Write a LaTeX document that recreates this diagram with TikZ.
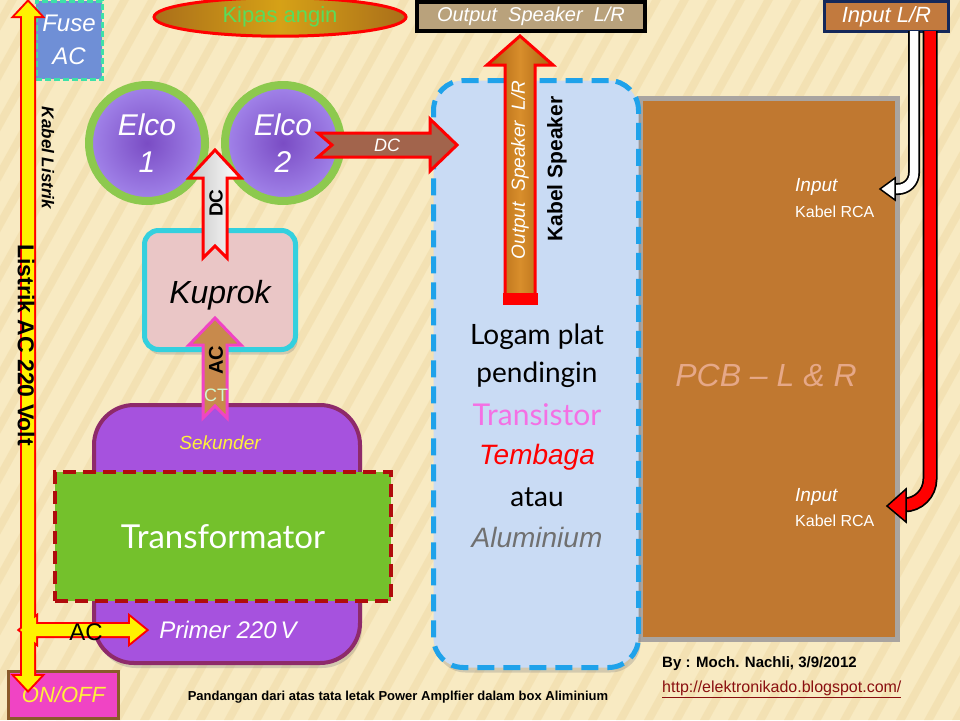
\documentclass[tikz,border=0pt]{standalone}
\usepackage{fontspec}
\setmainfont{Liberation Sans}
\newfontfamily\latofont{Lato}
\usetikzlibrary{shapes.geometric,calc,shadows}
\newcommand{\fnt}[2]{\fontsize{#1}{#2}\selectfont}
\definecolor{BgClr}{HTML}{F8EAC2}
\definecolor{StripeClr}{HTML}{F1DCAA}
\definecolor{FuseClr}{HTML}{6F8FD6}
\definecolor{FuseLine}{HTML}{3EE0A8}
\definecolor{KipasClr}{HTML}{C8821E}
\definecolor{KipasTxt}{HTML}{5ADC5A}
\definecolor{SpkBox}{HTML}{B9A27C}
\definecolor{WoodClr}{HTML}{C27A3E}
\definecolor{NavyClr}{HTML}{14285A}
\definecolor{ElcoClr}{HTML}{A284EA}
\definecolor{ElcoDark}{HTML}{7A4CC4}
\definecolor{ElcoRing}{HTML}{8DC94E}
\definecolor{KuprokClr}{HTML}{EAC6C6}
\definecolor{KuprokLine}{HTML}{34D0DE}
\definecolor{TrafoClr}{HTML}{A652DE}
\definecolor{TrafoLine}{HTML}{8E2A6A}
\definecolor{CoreClr}{HTML}{74C12C}
\definecolor{CoreLine}{HTML}{B00C0C}
\definecolor{SinkClr}{HTML}{C9DBF4}
\definecolor{SinkLine}{HTML}{1FA2EA}
\definecolor{PcbClr}{HTML}{C07830}
\definecolor{PcbEdge}{HTML}{A9A4A0}
\definecolor{PcbTxt}{HTML}{E6A888}
\definecolor{DcClr}{HTML}{A2644C}
\definecolor{AcWood}{HTML}{C88A4C}
\definecolor{SpkArrow}{HTML}{D88E2C}
\definecolor{SpkDark}{HTML}{A8600E}
\definecolor{OnOffClr}{HTML}{F044C4}
\definecolor{OnOffLine}{HTML}{8A5A2A}
\definecolor{PinkTxt}{HTML}{F470E4}
\definecolor{CtTxt}{HTML}{D0F8D0}
\definecolor{AluTxt}{HTML}{707070}
\definecolor{UrlClr}{HTML}{8A1010}
\definecolor{YellowTxt}{HTML}{FFF23A}

\begin{document}
\begin{tikzpicture}[x=1pt,y=-1pt,line join=miter,
  lbl/.style={inner sep=0pt},
  blockarr/.style={draw=red,line width=3pt},
  shade box/.style={drop shadow={opacity=.3,shadow xshift=2pt,shadow yshift=-5pt}}]
\useasboundingbox (0,0) rectangle (960,720);
\fill[BgClr] (0,0) rectangle (960,720);
\begin{scope}
\clip (0,0) rectangle (960,720);
\foreach \s in {-420,-392,...,960}
  \fill[StripeClr,opacity=.6] (\s,720) -- ++(9,0) -- ++(400,-720) -- ++(-9,0) -- cycle;
\end{scope}

\node[draw=FuseLine,dash pattern=on 6pt off 3pt,line width=3pt,fill=FuseClr,minimum width=66,minimum height=78,inner sep=0pt,
  text=white,font=\fnt{24}{33}\itshape,align=center] (fuse) at (69,40) {Fuse\\AC};
\node[draw=OnOffLine,line width=3pt,fill=OnOffClr,minimum width=110,minimum height=47,inner sep=0pt,
  text=YellowTxt,font=\fnt{22}{22}\itshape] (onoff) at (63.5,695) {ON/OFF};
\node[ellipse,draw=red,line width=3pt,left color=KipasClr!85!black,right color=KipasClr!85!black,middle color=KipasClr!75!yellow,
  minimum width=252,minimum height=30,text=KipasTxt,font=\fnt{22}{22}] (kipas) at (280,17) {Kipas angin};
\node[draw=black,line width=4pt,fill=SpkBox,minimum width=228,minimum height=29,inner sep=0pt,
  text=white,font=\fnt{20}{20}\itshape] (outspk) at (531,16.5) {Output\ \ Speaker\ \ L/R};
\node[draw=NavyClr,line width=3pt,fill=WoodClr,minimum width=124,minimum height=30,inner sep=0pt,
  text=white,font=\fnt{22}{22}\itshape] (inlr) at (886.5,16.5) {Input L/R};

\node[draw=PcbEdge,line width=5pt,fill=PcbClr,minimum width=257,minimum height=541,inner sep=0pt] (pcb) at (769,369) {};

\draw[line width=12pt,black,rounded corners=16pt] (914,31) |- (893,189);
\draw[line width=8.5pt,white,rounded corners=16pt] (914,31) |- (894,189);
\draw[white,fill=white,draw=black,line width=1.5pt] (895,178) -- (880,189) -- (895,200) -- cycle;
\draw[line width=15pt,black,rounded corners=26pt] (930,31) |- (903,505);
\draw[line width=11.5pt,red,rounded corners=26pt] (930,31) |- (904,505);
\draw[fill=red,draw=black,line width=1.5pt] (906,489) -- (887,506) -- (906,522) -- cycle;

\node[shade box,draw=SinkLine,dash pattern=on 17pt off 9pt,line width=5pt,fill=SinkClr,rounded corners=30pt,
  minimum width=205,minimum height=587,inner sep=0pt] (sink) at (536,374) {};

\draw[draw=red,line width=3pt,left color=SpkDark,right color=SpkDark,middle color=SpkArrow]
  (505,300) -- (505,65) -- (487,65) -- (520,36) -- (553,65) -- (535,65) -- (535,300) -- cycle;
\fill[red] (503,293) rectangle (538,305);
\node[lbl,rotate=90,text=white,font=\fnt{19}{19}\itshape] (spklbl) at (520,170) {Output\ \ Speaker\ \ L/R};
\node[lbl,rotate=90,font=\fnt{21}{21}\bfseries] (kabspk) at (557,169) {Kabel Speaker};

\node[circle,draw=ElcoRing,line width=8pt,inner color=ElcoDark,outer color=ElcoClr,minimum size=116,inner sep=0pt,
  text=white,font=\fnt{30}{37}\itshape,align=center] (elcoA) at (147,143) {Elco\\1};
\node[circle,draw=ElcoRing,line width=8pt,inner color=ElcoDark,outer color=ElcoClr,minimum size=116,inner sep=0pt,
  text=white,font=\fnt{30}{37}\itshape,align=center] (elcoB) at (283,143) {Elco\\2};

\node[shade box,draw=KuprokLine,line width=5pt,fill=KuprokClr,rounded corners=14pt,minimum width=151,minimum height=119,inner sep=0pt] (kuprok) at (220,290) {};
\node[lbl,font=\fnt{32}{32}\itshape] at ($(kuprok)+(0,5)$) {Kuprok};

\node[shade box,draw=TrafoLine,line width=4pt,fill=TrafoClr,rounded corners=40pt,minimum width=266,minimum height=258,inner sep=0pt] (trafo) at (227,534) {};
\node[draw=CoreLine,dash pattern=on 13pt off 7pt,line width=4pt,fill=CoreClr,minimum width=336,minimum height=129,inner sep=0pt,
  text=white,font=\fnt{33}{33}\latofont] (core) at (223,536.5) {Transformator};
\node[lbl,text=YellowTxt,font=\fnt{19}{19}\itshape] (sekunder) at (220,443) {Sekunder};
\node[lbl,text=white,font=\fnt{24}{24}\itshape] (primer) at (228,630) {Primer 220\,V};

% kabel listrik
\draw[red,line width=4pt] (22,16) -- (15,16) -- (28,2) -- (41,16) -- (34,16) -- (34,676) -- (41,676) -- (28,690) -- (15,676) -- (22,676) -- cycle;
\draw[red,line width=4pt] (36,624) -- (130,624) -- (130,617) -- (146,630) -- (130,643) -- (130,636) -- (36,636) -- (36,643) -- (20,630) -- (36,617) -- cycle;
\fill[yellow] (22,16) -- (15,16) -- (28,2) -- (41,16) -- (34,16) -- (34,676) -- (41,676) -- (28,690) -- (15,676) -- (22,676) -- cycle;
\fill[yellow] (36,624) -- (130,624) -- (130,617) -- (146,630) -- (130,643) -- (130,636) -- (36,636) -- (36,643) -- (20,630) -- (36,617) -- cycle;
\node[lbl,rotate=-90,font=\fnt{23}{23}\bfseries] (ac220) at (26,345) {Listrik AC 220 Volt};
\node[lbl,rotate=-90,font=\fnt{17}{17}\bfseries\itshape] (kablis) at (48,158) {Kabel Listrik};
\node[lbl,font=\fnt{24}{24}] (acmain) at (86,632) {AC};

\draw[blockarr,left color=gray!45,right color=white]
  (203,258) -- (203,178) -- (189,178) -- (215,150) -- (241,178) -- (227,178) -- (227,258) -- (215,246) -- cycle;
\node[lbl,rotate=90,font=\fnt{19}{19}\bfseries] (dcup) at (216,203) {DC};
\draw[draw=OnOffClr,line width=3pt,fill=AcWood]
  (203,418) -- (203,345) -- (189,345) -- (215,318) -- (241,345) -- (227,345) -- (227,418) -- (215,406) -- cycle;
\node[lbl,rotate=90,font=\fnt{20}{20}\bfseries] (acup) at (216,360) {AC};
\node[lbl,text=CtTxt,font=\fnt{18}{18}] (ct) at (216,395) {CT};
\draw[blockarr,fill=DcClr]
  (318,133) -- (430,133) -- (430,119) -- (457,145) -- (430,171) -- (430,157) -- (318,157) -- (332,145) -- cycle;
\node[lbl,text=white,font=\fnt{18}{18}\itshape] (dcright) at (387,145) {DC};

\node[lbl,font=\fnt{28}{28}\latofont] (logam) at (537,337) {Logam plat};
\node[lbl,font=\fnt{28}{28}\latofont] (dingin) at (537,375) {pendingin};
\node[lbl,text=PinkTxt,font=\fnt{30}{30}\latofont] (trans) at (537,415) {Transistor};
\node[lbl,text=red,font=\fnt{28}{28}\itshape] (tembaga) at (537,457) {Tembaga};
\node[lbl,font=\fnt{28}{28}\latofont] (atau) at (537,497) {atau};
\node[lbl,text=AluTxt,font=\fnt{28}{28}\itshape] (alu) at (537,537) {Aluminium};

\node[lbl,text=PcbTxt,font=\fnt{32}{32}\itshape] (pcblbl) at (766,375) {PCB -- L \& R};
\node[lbl,anchor=west,text=white,font=\fnt{19}{19}\itshape] (inA) at (795,187) {Input};
\node[lbl,anchor=west,text=white,font=\fnt{16}{16}] (rcaA) at (795,212) {Kabel RCA};
\node[lbl,anchor=west,text=white,font=\fnt{19}{19}\itshape] (inB) at (795,497) {Input};
\node[lbl,anchor=west,text=white,font=\fnt{16}{16}] (rcaB) at (795,521) {Kabel RCA};

\node[lbl,font=\fnt{13}{13}\bfseries] (caption) at (398,697) {Pandangan dari atas tata letak Power Amplfier dalam box Aliminium};
\node[lbl,anchor=west,font=\fnt{15}{15}\bfseries] (author) at (662,664) {By : Moch. Nachli, 3/9/2012};
\node[lbl,anchor=west,text=UrlClr,font=\fnt{16}{16}] (url) at (662,689) {\underline{http://elektronikado.blogspot.com/}};
\end{tikzpicture}
\end{document}
